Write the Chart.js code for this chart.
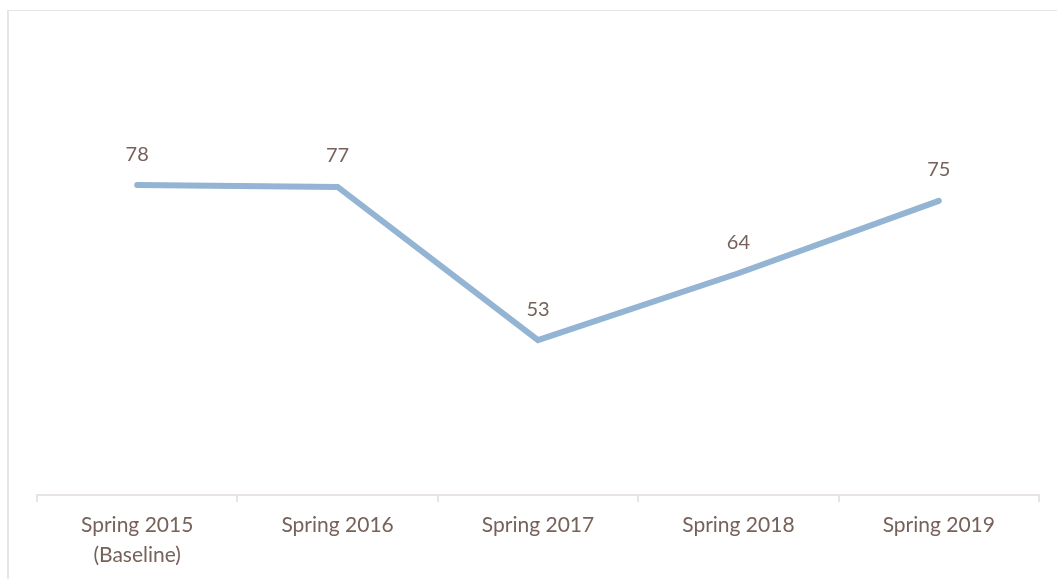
<!DOCTYPE html>
<html>
<head>
<meta charset="utf-8">
<script src="https://cdn.jsdelivr.net/npm/chart.js@4"></script>
<style>
  html, body { margin: 0; padding: 0; background: #fff; }
  #wrap { position: relative; width: 1057px; height: 579px; overflow: hidden; }
  #frame { position: absolute; left: 7px; top: 10px; width: 1100px; height: 700px;
           border-left: 2px solid #ebe5e2; border-top: 1px solid #ebe5e2; }
  canvas { position: absolute; left: 0; top: 0; }
</style>
</head>
<body>
<div id="wrap">
  <div id="frame"></div>
  <canvas id="chart" width="1057" height="579"></canvas>
</div>
<script>
const categories = [["Spring 2015", "(Baseline)"], "Spring 2016", "Spring 2017", "Spring 2018", "Spring 2019"];
const scores = [77.6, 77.3, 53.0, 63.6, 75.1];

const textColor = "#76625a";
const lineColor = "#93b4d3";
const axisColor = "#e9e4e1";

// draw the rounded value above each point
const pointLabels = {
    id: "pointLabels",
    afterDatasetsDraw(chart) {
        const ctx = chart.ctx;
        const meta = chart.getDatasetMeta(0);
        ctx.save();
        ctx.fillStyle = textColor;
        ctx.font = "20px Lato";
        ctx.textAlign = "center";
        ctx.textBaseline = "middle";
        meta.data.forEach(function (pt, i) {
            ctx.fillText(String(Math.round(scores[i])), pt.x, pt.y - 31);
        });
        ctx.restore();
    }
};

new Chart(document.getElementById("chart"), {
    type: "line",
    data: {
        labels: categories,
        datasets: [{
            data: scores,
            borderColor: lineColor,
            borderWidth: 6,
            borderCapStyle: "round",
            borderJoinStyle: "miter",
            pointRadius: 0,
            tension: 0
        }]
    },
    options: {
        responsive: false,
        animation: false,
        layout: { padding: { left: 37, right: 18, top: 44, bottom: 0 } },
        plugins: { legend: { display: false }, tooltip: { enabled: false } },
        scales: {
            y: { display: false, min: 28.4, max: 100 },
            x: {
                offset: true,
                grid: { offset: true, drawOnChartArea: false, drawTicks: true, tickLength: 7, color: axisColor, lineWidth: 2 },
                border: { display: true, color: axisColor, width: 2 },
                ticks: {
                    color: textColor,
                    font: { family: "Lato", size: 21, lineHeight: 1.4 },
                    padding: 9,
                    maxRotation: 0,
                    autoSkip: false
                },
                afterFit: function (scale) { scale.height = 84; }
            }
        }
    },
    plugins: [pointLabels]
});
</script>
</body>
</html>
